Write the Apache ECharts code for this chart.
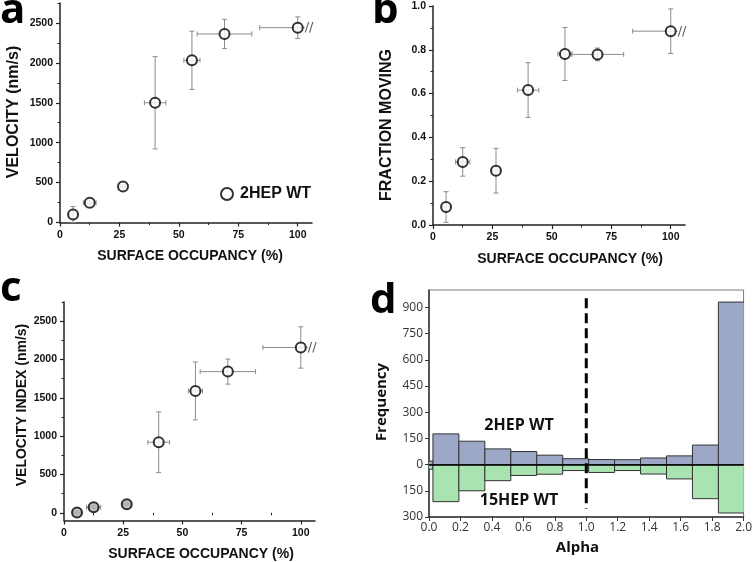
<!DOCTYPE html>
<html><head><meta charset="utf-8">
<script src="https://cdn.jsdelivr.net/npm/echarts@6.0.0/dist/echarts.min.js"></script>
<style>html,body{margin:0;padding:0;background:#fff}#c{width:755px;height:562px}</style>
</head><body><div id="c"></div>
<script>
// ---------- data ----------
const occupancy = [5.5, 12.5, 26.5, 40, 55.5, 69.2, 100];
const cutRight = [0, 0, 0, 0, 0, 0, 1];
// panel a
const velocity = [100, 248, 452, 1500, 2032, 2362, 2441];
const velocityErr = [100, 25, 20, 578, 365, 183, 135];
const velocityXErr = [1.5, 2.7, 1.2, 4.5, 3.4, 11.5, 16];
// panel b
const fractionMoving = [0.082, 0.288, 0.248, 0.616, 0.781, 0.779, 0.885];
const fractionErr = [0.07, 0.065, 0.102, 0.125, 0.121, 0.029, 0.102];
const fractionXErr = [1.5, 3, 1.5, 4.5, 3, 11, 16];
// panel c
const velocityIndex = [5, 72, 112, 921, 1590, 1842, 2157];
const velocityIndexErr = [20, 20, 20, 396, 378, 163, 270];
const velocityIndexXErr = [1.5, 3, 1.5, 4.6, 3, 11.7, 16];
// panel d (histogram of alpha)
const binEdges = [-0.14, 0.025, 0.19, 0.355, 0.52, 0.685, 0.85, 1.015, 1.18, 1.345, 1.51, 1.675, 1.84, 2.005];
const freq2HEP = [20, 176, 134, 90, 75, 54, 34, 29, 28, 38, 50, 112, 931];
const freq15HEP = [-26, -212, -150, -92, -62, -55, -34, -45, -34, -54, -82, -195, -277];
const alphaDivider = [[1.0, 953], [1.0, -253]];
// tick values
const occTicks = [0, 25, 50, 75, 100];
const occMinor = [12.5, 37.5, 62.5, 87.5];
const velTicks = [0, 500, 1000, 1500, 2000, 2500];
const velMinor = [250, 750, 1250, 1750, 2250, 2750];
const fracTicks = [0, 0.2, 0.4, 0.6, 0.8, 1.0];
const fracMinor = [0.1, 0.3, 0.5, 0.7, 0.9];
const freqTicks = [-300, -150, 0, 150, 300, 450, 600, 750, 900];

// ---------- helpers ----------
const AR = '"Liberation Sans", Arial, sans-serif';
const SG = '"Open Sans", "Noto Sans", sans-serif';
const lineCol = '#222';

function errRender(params, api) {
  const x = api.value(0), y = api.value(1), xe = api.value(2), ye = api.value(3), cut = api.value(4);
  const c = api.coord([x, y]);
  const t = api.coord([x, y + ye]);
  const b = api.coord([x, y - ye]);
  const l = api.coord([x - xe, y]);
  const r = api.coord([x + xe, y]);
  const st = { stroke: '#8c8c8c', lineWidth: 1 };
  const cap = 2.5;
  const ch = [
    { type: 'line', shape: { x1: c[0], y1: t[1], x2: c[0], y2: b[1] }, style: st },
    { type: 'line', shape: { x1: c[0] - cap, y1: t[1], x2: c[0] + cap, y2: t[1] }, style: st },
    { type: 'line', shape: { x1: c[0] - cap, y1: b[1], x2: c[0] + cap, y2: b[1] }, style: st },
    { type: 'line', shape: { x1: l[0], y1: c[1], x2: cut ? c[0] + 7 : r[0], y2: c[1] }, style: st },
    { type: 'line', shape: { x1: l[0], y1: c[1] - cap, x2: l[0], y2: c[1] + cap }, style: st }
  ];
  if (!cut) {
    ch.push({ type: 'line', shape: { x1: r[0], y1: c[1] - cap, x2: r[0], y2: c[1] + cap }, style: st });
  } else {
    ch.push({ type: 'text', style: { text: '//', x: c[0] + 7, y: c[1], fill: '#555', font: '13px "DejaVu Sans"', textVerticalAlign: 'middle', verticalAlign: 'middle' } });
  }
  return { type: 'group', children: ch };
}

function barRender(params, api) {
  const x0 = api.value(0), x1 = api.value(1), v = api.value(2);
  const p0 = api.coord([x0, 0]);
  const p1 = api.coord([x1, v]);
  return {
    type: 'rect',
    shape: { x: p0[0], y: Math.min(p0[1], p1[1]), width: p1[0] - p0[0], height: Math.abs(p1[1] - p0[1]) },
    style: { fill: api.visual('color'), stroke: '#333', lineWidth: 1 }
  };
}

function mainX(grid, max) {
  return {
    type: 'value', gridIndex: grid, min: 0, max: max, position: 'bottom',
    axisLine: { show: true, onZero: false, lineStyle: { color: lineCol, width: 1.5 } },
    axisTick: { show: true, customValues: occTicks, length: 4, lineStyle: { color: lineCol, width: 1.2 } },
    axisLabel: { customValues: occTicks, margin: 7, color: '#111', fontFamily: AR, fontWeight: 'bold', fontSize: 10.5, formatter: v => String(v) },
    splitLine: { show: false }
  };
}
function minorX(grid, max) {
  return {
    type: 'value', gridIndex: grid, min: 0, max: max, position: 'bottom',
    axisLine: { show: false }, axisLabel: { show: false }, splitLine: { show: false },
    axisTick: { show: true, customValues: occMinor, length: 2.5, lineStyle: { color: lineCol, width: 1 } }
  };
}
function mainY(grid, min, max, ticks, fmt) {
  return {
    type: 'value', gridIndex: grid, min: min, max: max, position: 'left',
    axisLine: { show: true, onZero: false, lineStyle: { color: lineCol, width: 1.5 } },
    axisTick: { show: true, customValues: ticks, length: 4, lineStyle: { color: lineCol, width: 1.2 } },
    axisLabel: { customValues: ticks, margin: 7, color: '#111', fontFamily: AR, fontWeight: 'bold', fontSize: 10.5, formatter: fmt },
    splitLine: { show: false }
  };
}
function minorY(grid, min, max, ticks) {
  return {
    type: 'value', gridIndex: grid, min: min, max: max, position: 'left',
    axisLine: { show: false }, axisLabel: { show: false }, splitLine: { show: false },
    axisTick: { show: true, customValues: ticks, length: 2.5, lineStyle: { color: lineCol, width: 1 } }
  };
}
function pts(ys, xerr, yerr) {
  return occupancy.map((x, i) => [x, ys[i], xerr[i], yerr[i], cutRight[i]]);
}
function scatterData(ys, grayCount) {
  return occupancy.map((x, i) => i < grayCount
    ? { value: [x, ys[i]], itemStyle: { color: '#b4b4b4' } }
    : [x, ys[i]]);
}
const symStyle = { color: '#fff', borderColor: '#000', borderWidth: 2 };

const fmtFrac = v => v.toFixed(1);
const fmtInt = v => String(Math.round(v));

const option = {
  backgroundColor: '#fff',
  animation: false,
  grid: [
    { left: 60, top: 3, width: 252, height: 219.5 },
    { left: 433, top: 6, width: 252, height: 219 },
    { left: 64, top: 302, width: 251, height: 218.5 },
    { left: 429, top: 290, width: 317, height: 227, show: true, borderColor: '#7a7a7a', borderWidth: 1 }
  ],
  xAxis: [
    mainX(0, 106), mainX(1, 106), mainX(2, 106),
    {
      type: 'value', gridIndex: 3, min: 0, max: 2, interval: 0.2, position: 'bottom',
      axisLine: { show: true, onZero: false, lineStyle: { color: '#333', width: 1.5 } },
      axisTick: { show: true, length: 4, lineStyle: { color: '#333', width: 1 } },
      axisLabel: { margin: 5, color: '#333', fontFamily: SG, fontSize: 12, formatter: v => v.toFixed(1) },
      splitLine: { show: false }
    },
    minorX(0, 106), minorX(1, 106), minorX(2, 106)
  ],
  yAxis: [
    mainY(0, 0, 2750, velTicks, fmtInt),
    mainY(1, 0, 1, fracTicks, fmtFrac),
    mainY(2, -100, 2750, velTicks, fmtInt),
    {
      type: 'value', gridIndex: 3, min: -300, max: 1000, position: 'left',
      axisLine: { show: true, onZero: false, lineStyle: { color: '#333', width: 1.5 } },
      axisTick: { show: true, customValues: freqTicks, length: 4, lineStyle: { color: '#333', width: 1 } },
      axisLabel: { customValues: freqTicks, margin: 6, color: '#333', fontFamily: SG, fontSize: 12, formatter: v => String(Math.abs(v)) },
      splitLine: { show: false }
    },
    minorY(0, 0, 2750, velMinor),
    minorY(1, 0, 1, fracMinor),
    minorY(2, -100, 2750, velMinor)
  ],
  legend: {
    data: ['2HEP WT'], left: 215, top: 181, itemWidth: 16, itemHeight: 12, icon: 'circle',
    itemStyle: { color: '#fff', borderColor: '#000', borderWidth: 2 },
    textStyle: { fontFamily: AR, fontWeight: 'bold', fontSize: 16, color: '#111' },
    selectedMode: false
  },
  series: [
    { type: 'custom', xAxisIndex: 0, yAxisIndex: 0, renderItem: errRender, data: pts(velocity, velocityXErr, velocityErr), z: 2, silent: true },
    { type: 'scatter', name: '2HEP WT', xAxisIndex: 0, yAxisIndex: 0, symbol: 'circle', symbolSize: 10, itemStyle: symStyle, data: scatterData(velocity, 0), z: 3 },
    { type: 'custom', xAxisIndex: 1, yAxisIndex: 1, renderItem: errRender, data: pts(fractionMoving, fractionXErr, fractionErr), z: 2, silent: true },
    { type: 'scatter', name: 'fraction moving', xAxisIndex: 1, yAxisIndex: 1, symbol: 'circle', symbolSize: 10, itemStyle: symStyle, data: scatterData(fractionMoving, 0), z: 3 },
    { type: 'custom', xAxisIndex: 2, yAxisIndex: 2, renderItem: errRender, data: pts(velocityIndex, velocityIndexXErr, velocityIndexErr), z: 2, silent: true },
    { type: 'scatter', name: 'velocity index', xAxisIndex: 2, yAxisIndex: 2, symbol: 'circle', symbolSize: 10, itemStyle: symStyle, data: scatterData(velocityIndex, 3), z: 3 },
    {
      type: 'custom', name: 'alpha 2HEP', xAxisIndex: 3, yAxisIndex: 3, clip: true, renderItem: barRender,
      itemStyle: { color: '#9da8c8' }, z: 2,
      data: freq2HEP.map((v, i) => [binEdges[i], binEdges[i + 1], v])
    },
    {
      type: 'custom', name: 'alpha 15HEP', xAxisIndex: 3, yAxisIndex: 3, clip: true, renderItem: barRender,
      itemStyle: { color: '#a9e3b1' }, z: 2,
      data: freq15HEP.map((v, i) => [binEdges[i], binEdges[i + 1], v]),
      markLine: { silent: true, symbol: 'none', label: { show: false }, lineStyle: { color: '#000', type: 'solid', width: 1.5 }, data: [{ yAxis: 0 }] }
    },
    {
      type: 'line', name: 'alpha = 1', xAxisIndex: 3, yAxisIndex: 3, data: alphaDivider, symbol: 'none', z: 4,
      lineStyle: { color: '#000', width: 3, type: [10, 5] }
    }
  ],
  graphic: [
    // panel letters
    { type: 'text', left: 0, top: -10, style: { text: 'a', font: 'bold 42px "Open Sans"', fill: '#000' } },
    { type: 'text', left: 372, top: -10, style: { text: 'b', font: 'bold 42px "Open Sans"', fill: '#000' } },
    { type: 'text', left: 0, top: 268, style: { text: 'c', font: 'bold 42px "Open Sans"', fill: '#000' } },
    { type: 'text', left: 370, top: 280, style: { text: 'd', font: 'bold 42px "Open Sans"', fill: '#000' } },
    // axis titles
    { type: 'text', x: 14, y: 112, rotation: Math.PI / 2, style: { text: 'VELOCITY (nm/s)', font: 'bold 16px ' + AR, fill: '#111', textAlign: 'center', textVerticalAlign: 'middle' } },
    { type: 'text', x: 190, y: 256, style: { text: 'SURFACE OCCUPANCY (%)', font: 'bold 14px ' + AR, fill: '#111', textAlign: 'center', textVerticalAlign: 'middle' } },
    { type: 'text', x: 386.5, y: 125, rotation: Math.PI / 2, style: { text: 'FRACTION MOVING', font: 'bold 16px ' + AR, fill: '#111', textAlign: 'center', textVerticalAlign: 'middle' } },
    { type: 'text', x: 570, y: 259, style: { text: 'SURFACE OCCUPANCY (%)', font: 'bold 14px ' + AR, fill: '#111', textAlign: 'center', textVerticalAlign: 'middle' } },
    { type: 'text', x: 22.5, y: 405, rotation: Math.PI / 2, style: { text: 'VELOCITY INDEX (nm/s)', font: 'bold 14px ' + AR, fill: '#111', textAlign: 'center', textVerticalAlign: 'middle' } },
    { type: 'text', x: 201, y: 554, style: { text: 'SURFACE OCCUPANCY (%)', font: 'bold 14px ' + AR, fill: '#111', textAlign: 'center', textVerticalAlign: 'middle' } },
    { type: 'text', x: 381.5, y: 402, rotation: Math.PI / 2, style: { text: 'Frequency', font: 'bold 15px ' + SG, fill: '#111', textAlign: 'center', textVerticalAlign: 'middle' } },
    { type: 'text', x: 577.5, y: 548, style: { text: 'Alpha', font: 'bold 15px ' + SG, fill: '#111', textAlign: 'center', textVerticalAlign: 'middle' } },
    { type: 'text', x: 519, y: 425, style: { text: '2HEP WT', font: 'bold 16px ' + SG, fill: '#111', textAlign: 'center', textVerticalAlign: 'middle' } },
    { type: 'text', x: 519, y: 500, style: { text: '15HEP WT', font: 'bold 16px ' + SG, fill: '#111', textAlign: 'center', textVerticalAlign: 'middle' } }
  ]
};

const chart = echarts.init(document.getElementById('c'), null, { renderer: 'canvas' });
chart.setOption(option);
</script>
</body></html>
